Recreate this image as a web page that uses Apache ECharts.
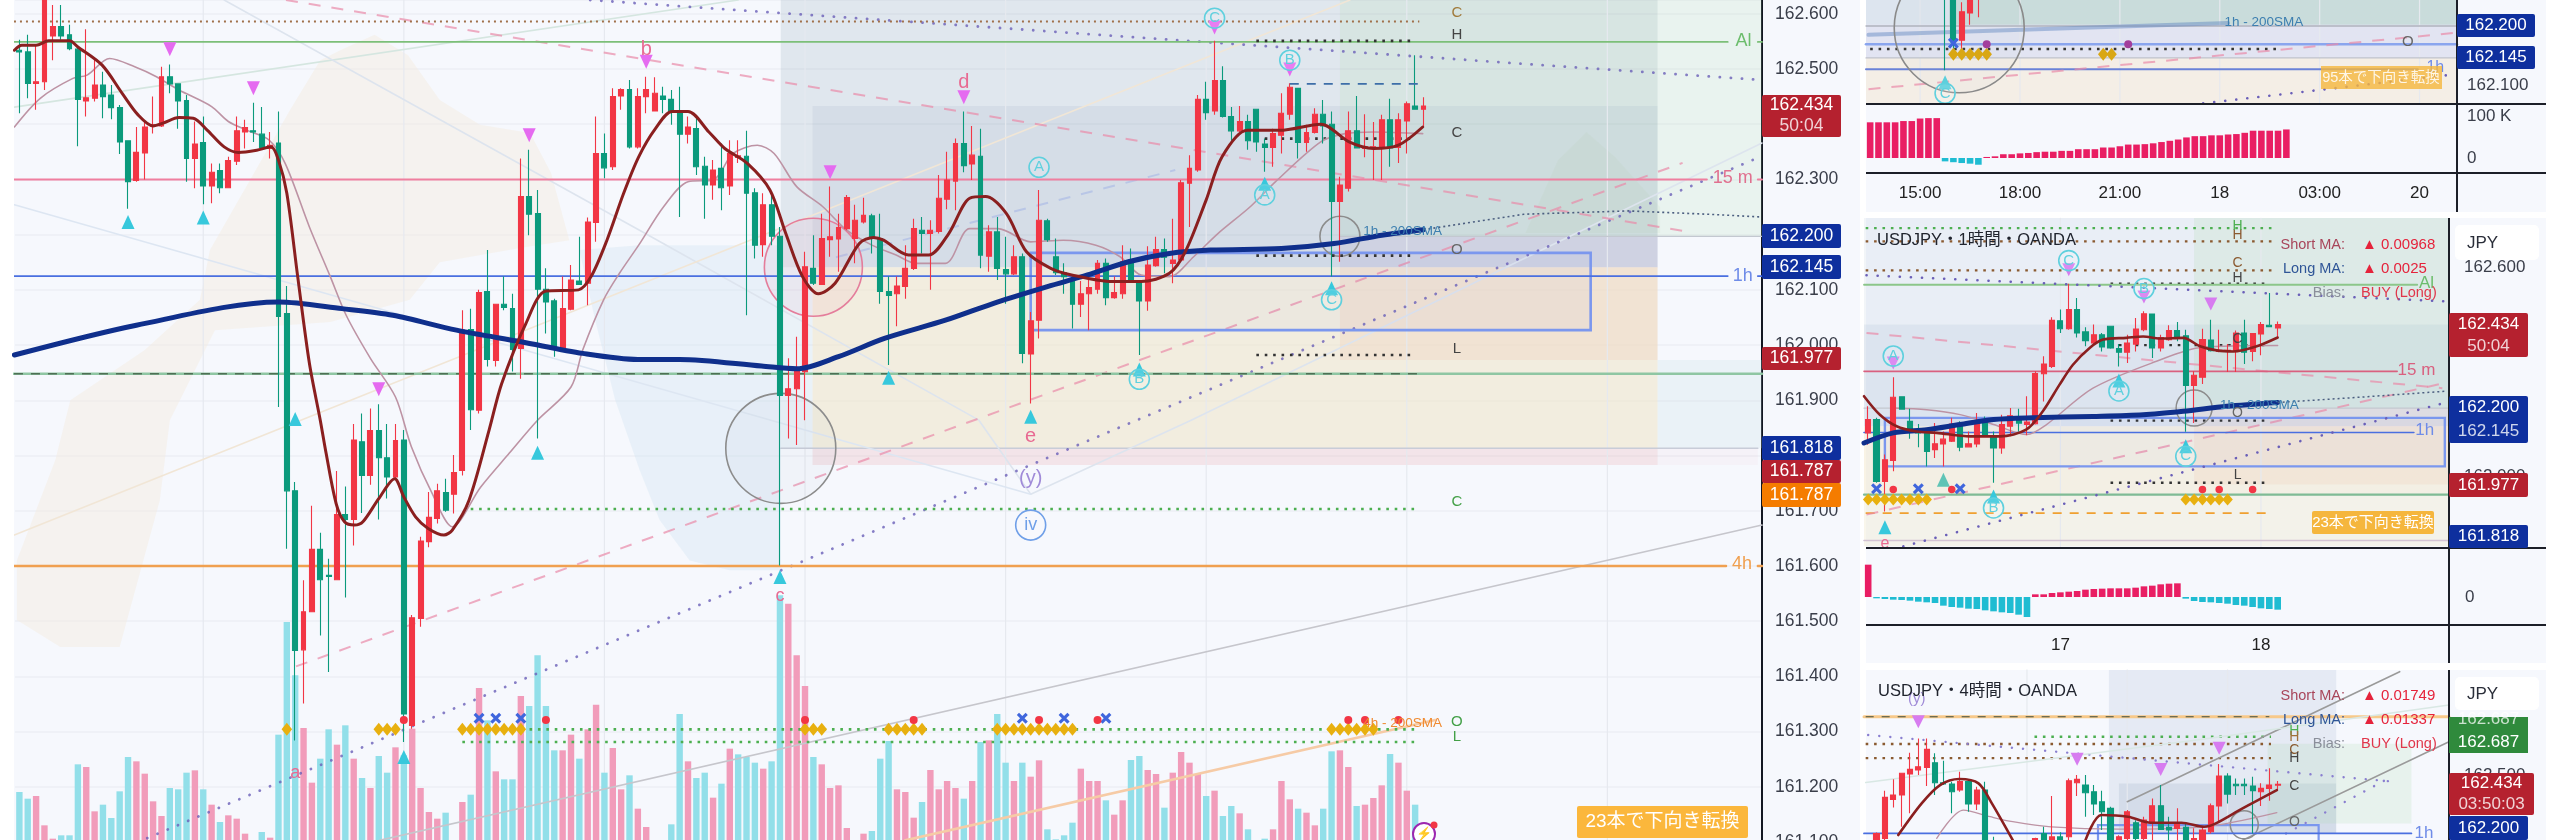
<!DOCTYPE html>
<html><head><meta charset="utf-8">
<style>html,body{margin:0;padding:0;background:#fff;}#c{width:2560px;height:840px;}</style>
<script src="https://cdn.jsdelivr.net/npm/echarts@6/dist/echarts.min.js"></script>
</head><body><div id="c"></div>
<script>
// ---------- candles: [open, close, low, high] ----------
const mainCandles=[
[162.534,162.531,162.420,162.553],[162.531,162.474,162.447,162.562],[162.474,162.477,162.426,162.543],[162.477,162.643,162.462,162.661],[162.560,162.577,162.516,162.616],[162.577,162.560,162.553,162.616],[162.562,162.537,162.534,162.580],[162.536,162.445,162.360,162.540],[162.442,162.448,162.414,162.572],[162.447,162.471,162.441,162.519],
[162.471,162.450,162.411,162.495],[162.453,162.430,162.409,162.471],[162.430,162.368,162.346,162.435],[162.370,162.296,162.247,162.371],[162.298,162.349,162.296,162.395],[162.348,162.395,162.300,162.405],[162.397,162.399,162.383,162.450],[162.397,162.486,162.395,162.504],[162.486,162.473,162.456,162.508],[162.473,162.442,162.392,162.474],
[162.443,162.338,162.296,162.453],[162.338,162.364,162.284,162.405],[162.367,162.288,162.255,162.414],[162.288,162.313,162.257,162.329],[162.316,162.285,162.275,162.329],[162.285,162.334,162.284,162.341],[162.333,162.388,162.326,162.414],[162.386,162.394,162.356,162.408],[162.388,162.386,162.368,162.439],[162.382,162.358,162.356,162.431],
[162.356,162.362,162.338,162.386],[162.366,162.052,161.888,162.423],[162.057,161.736,161.631,162.107],[161.736,161.447,161.284,161.752],[161.448,161.517,161.351,161.574],[161.517,161.630,161.517,161.709],[161.630,161.575,161.474,161.660],[161.583,161.581,161.408,161.613],[161.575,161.693,161.574,161.772],[161.693,161.684,161.543,161.744],
[161.684,161.828,161.637,161.857],[161.825,161.764,161.696,161.876],[161.764,161.845,161.747,161.885],[161.845,161.796,161.684,161.893],[161.796,161.761,161.722,161.857],[161.761,161.827,161.758,161.857],[161.828,161.332,161.281,161.846],[161.311,161.506,161.305,161.511],[161.505,161.645,161.490,161.653],[161.644,161.688,161.634,161.734],
[161.686,161.736,161.677,161.749],[161.733,161.701,161.698,161.758],[161.730,161.769,161.695,161.801],[161.773,162.027,161.764,162.063],[162.028,161.883,161.846,162.066],[161.882,162.095,161.876,162.100],[162.097,161.974,161.961,162.172],[161.972,162.074,161.961,162.075],[162.074,162.068,162.063,162.124],[162.066,161.992,161.952,162.093],
[161.994,162.269,161.939,162.338],[162.269,162.237,162.199,162.354],[162.238,162.101,161.831,162.281],[162.101,162.078,162.021,162.139],[162.080,161.997,161.979,162.084],[161.994,162.066,161.991,162.124],[162.065,162.118,162.063,162.145],[162.116,162.110,162.109,162.196],[162.112,162.223,162.072,162.231],[162.222,162.347,162.187,162.414],
[162.347,162.321,162.302,162.383],[162.323,162.450,162.317,162.465],[162.451,162.463,162.426,162.465],[162.463,162.359,162.356,162.480],[162.359,162.450,162.356,162.465],[162.450,162.463,162.420,162.486],[162.424,162.456,162.423,162.485],[162.451,162.445,162.420,162.468],[162.445,162.423,162.399,162.462],[162.423,162.382,162.232,162.468],
[162.382,162.395,162.365,162.414],[162.392,162.323,162.308,162.414],[162.324,162.290,162.229,162.341],[162.290,162.317,162.263,162.335],[162.320,162.285,162.244,162.365],[162.288,162.347,162.272,162.371],[162.340,162.343,162.330,162.371],[162.342,162.275,162.054,162.388],[162.276,162.181,162.157,162.284],[162.182,162.254,162.160,162.275],
[162.254,162.197,162.181,162.278],[162.197,161.909,161.601,162.214],[161.909,161.921,161.831,161.976],[161.921,161.952,161.819,162.015],[161.952,162.142,161.864,162.169],[162.139,162.112,162.109,162.199],[162.110,162.193,162.109,162.238],[162.191,162.196,162.160,162.287],[162.192,162.213,162.133,162.238],[162.211,162.267,162.208,162.272],
[162.193,162.226,162.148,162.254],[162.223,162.235,162.220,162.267],[162.234,162.196,162.166,162.238],[162.193,162.097,162.075,162.238],[162.097,162.090,161.964,162.124],[162.093,162.107,162.034,162.124],[162.106,162.139,162.084,162.181],[162.139,162.211,162.136,162.229],[162.208,162.202,162.166,162.232],[162.202,162.208,162.100,162.226],
[162.206,162.266,162.202,162.308],[162.264,162.299,162.246,162.350],[162.297,162.365,162.244,162.374],[162.365,162.325,162.313,162.423],[162.328,162.344,162.299,162.397],[162.342,162.163,162.139,162.392],[162.161,162.205,162.133,162.217],[162.205,162.139,162.118,162.232],[162.137,162.129,162.075,162.196],[162.129,162.160,162.127,162.181],
[162.160,161.985,161.967,162.166],[161.984,162.044,161.894,162.060],[162.045,162.226,162.012,162.281],[162.225,162.191,162.187,162.229],[162.160,162.131,162.127,162.193],[162.131,162.124,162.093,162.148],[162.119,162.074,162.030,162.124],[162.074,162.093,162.051,162.116],[162.093,162.104,162.027,162.124],[162.101,162.148,162.093,162.154],
[162.148,162.086,162.072,162.157],[162.086,162.095,162.084,162.124],[162.093,162.151,162.084,162.181],[162.154,162.116,162.115,162.175],[162.113,162.080,161.982,162.115],[162.080,162.145,162.062,162.179],[162.144,162.173,162.142,162.196],[162.173,162.159,162.130,162.193],[162.148,162.154,162.112,162.229],[162.154,162.294,162.151,162.299],
[162.293,162.320,162.214,162.344],[162.317,162.445,162.314,162.453],[162.445,162.421,162.408,162.477],[162.424,162.479,162.417,162.551],[162.479,162.414,162.412,162.505],[162.414,162.388,162.370,162.431],[162.388,162.405,162.386,162.433],[162.405,162.370,162.354,162.417],[162.427,162.368,162.350,162.428],[162.364,162.358,162.314,162.374],
[162.358,162.383,162.323,162.392],[162.380,162.420,162.347,162.456],[162.418,162.467,162.408,162.474],[162.465,162.367,162.338,162.466],[162.367,162.385,162.350,162.399],[162.385,162.418,162.383,162.429],[162.418,162.397,162.365,162.444],[162.400,162.260,162.124,162.423],[162.260,162.290,162.151,162.305],[162.284,162.388,162.278,162.423],
[162.388,162.357,162.356,162.451],[162.356,162.359,162.340,162.418],[162.356,162.359,162.299,162.404],[162.358,162.408,162.299,162.417],[162.408,162.357,162.323,162.446],[162.358,162.408,162.330,162.420],[162.406,162.437,162.347,162.441],[162.433,162.427,162.427,162.525],[162.427,162.433,162.397,162.449]];
const mainVolume=[150,130,138,50,10,20,20,233,225,92,112,72,152,255,242,205,122,78,162,158,208,215,158,112,60,80,70,25,5,30,13,322,660,500,342,178,250,338,292,350,250,192,162,258,208,284,260,340,162,90,70,88,0,120,142,462,365,212,188,188,438,408,560,408,275,275,322,250,338,412,208,282,158,200,100,45,0,5,53,384,242,192,208,133,175,280,263,255,238,220,242,740,715,560,468,255,233,162,170,42,0,25,33,250,303,158,150,73,120,216,158,183,162,130,183,300,305,384,238,183,238,196,245,38,8,20,58,220,183,183,125,82,125,246,258,216,204,103,208,270,238,204,138,154,78,108,86,38,0,10,38,183,128,100,88,50,100,272,275,225,108,112,132,170,264,238,154,112,0];
const mainVolumeUp=[0,0,1,1,1,0,0,0,1,1,0,0,0,0,1,1,1,1,0,0,0,1,0,1,0,1,1,1,0,0,1,0,0,0,1,1,0,0,1,0,1,0,1,0,0,1,0,1,1,1,1,0,1,1,0,1,0,1,0,0,1,0,0,0,0,1,1,0,1,1,0,1,1,0,1,1,1,0,0,0,1,0,0,1,0,1,0,0,0,1,0,0,1,1,1,0,1,1,1,1,1,1,0,0,0,1,1,1,0,1,1,1,1,0,1,0,1,0,0,1,0,1,1,0,0,0,0,1,1,1,0,1,1,0,0,1,1,0,1,1,1,1,0,1,0,0,1,0,0,0,1,1,1,0,1,1,0,0,1,1,0,1,1,1,0,1,1,0,1];
const mainSma200=[[-0.6,161.982],[14,162.036],[31,162.078],[38.6,162.066],[44.7,162.054],[52.3,162.027],[60,162.006],[67.4,161.985],[74,161.974],[79,161.974],[88.8,161.962],[93,161.957],[98,161.979],[103.5,162.012],[110.8,162.045],[117,162.078],[123,162.106],[127.8,162.127],[132.7,162.151],[137.6,162.166],[142.5,162.172],[151,162.175],[157.3,162.184],[163,162.199],[168,162.209]];
const mainSma200Ext=[[168,162.209],[180,162.237],[192.5,162.243],[202,162.237],[208.5,162.232]];
const mainFastMa=[[-0.6,162.534],[0.3,162.543],[2,162.543],[3.5,162.551],[6,162.551],[7,162.540],[9.9,162.507],[12.3,162.456],[14.2,162.417],[16,162.397],[17.2,162.402],[19.1,162.412],[20.8,162.411],[22.5,162.389],[24.5,162.359],[26.2,162.349],[28.4,162.353],[30.1,162.359],[31,162.335],[32,162.275],[33.3,162.124],[34.7,161.967],[36,161.864],[36.7,161.804],[37.9,161.713],[38.9,161.680],[40.1,161.674],[41.1,161.680],[43,161.722],[44.9,161.758],[46,161.725],[47.4,161.689],[48.9,161.668],[50.8,161.656],[51.8,161.665],[53.8,161.719],[56.2,161.846],[57.7,161.930],[60.6,162.039],[63,162.098],[66.9,162.100],[68.4,162.124],[70.3,162.190],[72.3,162.275],[74.1,162.341],[76.1,162.392],[78.1,162.423],[80,162.423],[82.5,162.386],[84.4,162.356],[87.1,162.329],[89.8,162.281],[91.7,162.202],[93.7,162.124],[95.6,162.093],[97.6,162.112],[100.5,162.184],[102.2,162.195],[103.4,162.190],[106.4,162.163],[108.8,162.163],[111.2,162.202],[113.7,162.266],[115.6,162.269],[118.1,162.238],[120.5,162.169],[123.4,162.139],[125.9,162.127],[130.8,162.115],[134.2,162.115],[137.6,162.130],[139.5,162.169],[142,162.263],[143.9,162.341],[146.9,162.389],[150.8,162.389],[155.7,162.400],[159.1,162.368],[162,162.356],[165,162.362],[167.9,162.395]];
const mainSlowMa=[[-0.6,162.395],[2.5,162.447],[6.4,162.483],[8.1,162.489],[10.8,162.519],[13.8,162.504],[16.4,162.486],[19.1,162.462],[23,162.432],[25,162.405],[27.4,162.388],[29.9,162.371],[31.8,162.329],[34.7,162.214],[37.2,162.124],[39.1,162.054],[42,161.976],[45,161.906],[46.9,161.816],[49.4,161.731],[51.8,161.671],[55.2,161.743],[58.6,161.804],[62,161.864],[66,161.924],[67.4,161.991],[69.9,162.082],[71.8,162.130],[74.1,162.181],[77.1,162.251],[80,162.296],[83,162.299],[85.4,162.347],[88.3,162.362],[90.3,162.347],[93,162.287],[96.1,162.251],[99,162.208],[102,162.181],[104.9,162.163],[107.3,162.148],[110.8,162.148],[113.7,162.211],[117.1,162.211],[121,162.187],[124.9,162.190],[128.8,162.181],[131.7,162.160],[134.2,162.127],[137.6,162.124],[140.5,162.160],[143.4,162.202],[147.3,162.251],[150.3,162.296],[155.7,162.368],[158.6,162.383],[162,162.386],[167.9,162.383]];
const mainTickLabelsEvery=0.1;
const mainLevels={al:162.549,m15:162.300,h1:162.125,base:161.948,h4:161.600};
const mainDownTriangles=[[18,162.536],[28,162.465],[43,161.920],[61,162.380],[75,162.513],[97,162.313],[113,162.449],[143,162.575],[152,162.499]];
const mainUpTriangles=[[13,162.223],[22,162.231],[33,161.866],[46,161.254],[62,161.805],[91,161.580],[104,161.941],[121,161.870],[134,161.956],[149,162.292],[157,162.103]];
const mainDiamondBars=[32,43,44,45,53,54,55,56,57,58,59,60,94,95,96,104,105,106,107,108,117,118,119,120,121,122,123,124,125,126,157,158,159,160,161,162];
const mainDiamondPrice=161.304;
const mainCrossBars=[55,57,60,120,125,130];
const mainCrossPrice=161.324;
const mainDotBars=[46,63,94,107,122,129,159,161,165];
const mainDotPrice=161.321;

const hourCandles=[
[162.125,162.163,162.091,162.201],[162.163,161.986,161.982,162.168],[161.986,162.048,161.900,162.063],[162.046,162.227,162.015,162.284],[162.228,162.193,162.191,162.230],[162.158,162.134,162.108,162.194],[162.129,162.125,162.084,162.150],[162.127,162.072,162.029,162.129],[162.077,162.094,162.053,162.153],[162.093,162.107,162.029,162.129],
[162.101,162.150,162.099,162.168],[162.150,162.084,162.072,162.158],[162.085,162.094,162.084,162.129],[162.093,162.158,162.084,162.182],[162.161,162.117,162.115,162.172],[162.117,162.082,161.982,162.129],[162.082,162.149,162.065,162.177],[162.144,162.174,162.115,162.196],[162.172,162.153,162.129,162.194],[162.149,162.156,162.118,162.230],
[162.151,162.295,162.149,162.301],[162.294,162.322,162.215,162.344],[162.315,162.447,162.311,162.456],[162.446,162.423,162.411,162.478],[162.423,162.478,162.420,162.552],[162.478,162.411,162.398,162.511],[162.414,162.389,162.373,162.427],[162.382,162.406,162.379,162.435],[162.406,162.371,162.358,162.411],[162.430,162.368,162.366,162.431],
[162.366,162.356,162.315,162.379],[162.356,162.382,162.325,162.406],[162.379,162.422,162.358,162.454],[162.420,162.466,162.416,162.473],[162.465,162.368,162.339,162.466],[162.368,162.398,162.358,162.406],[162.392,162.418,162.389,162.433],[162.418,162.398,162.387,162.442],[162.403,162.261,162.128,162.420],[162.261,162.290,162.153,162.301],
[162.284,162.392,162.265,162.423],[162.391,162.360,162.358,162.449],[162.358,162.361,162.356,162.420],[162.358,162.361,162.299,162.379],[162.358,162.411,162.299,162.418],[162.411,162.356,162.322,162.449],[162.358,162.409,162.330,162.411],[162.408,162.435,162.347,162.442],[162.433,162.429,162.429,162.525],[162.425,162.435,162.397,162.444]];
const hourSma200=[[-0.5,162.096],[3,162.125],[7,162.134],[11,162.149],[15,162.163],[19.7,162.168],[26.9,162.172],[32.9,162.177],[37.7,162.187],[42.9,162.201],[49,162.212]];
const hourSma200Ext=[[49,162.212],[57.6,162.225],[69,162.244]];
const hourFastMa=[[-0.5,162.230],[1.4,162.177],[3.4,162.144],[5.8,162.129],[8.2,162.125],[12.2,162.115],[15.8,162.115],[18.9,162.134],[20.9,162.187],[22.9,162.263],[24.5,162.320],[26.5,162.368],[28.1,162.392],[30.9,162.397],[32.9,162.401],[34.9,162.395],[37.7,162.397],[39.7,162.373],[41.7,162.361],[43.7,162.358],[46.5,162.373],[49,162.398]];
const hourSlowMa=[[3,162.196],[7,162.191],[11,162.177],[15,162.149],[19,162.120],[21.3,162.148],[26.9,162.253],[34.5,162.330],[40,162.370],[49,162.375]];
const hourHistogram=[97,-4,-6,-8,-9,-11,-14,-16,-18,-26,-30,-32,-35,-36,-40,-43,-46,-48,-53,-60,8,8,12,14,16,18,22,24,25,26,26,26,28,32,34,38,40,41,-5,-12,-15,-16,-18,-20,-24,-26,-30,-34,-36,-38];

const fourHourCandles=[null,
[162.079,162.122,162.079,162.129],[162.090,162.355,162.079,162.398],[162.342,162.370,162.290,162.471],[162.370,162.510,162.166,162.514],[162.505,162.535,162.252,162.643],[162.531,162.552,162.499,162.735],[162.548,162.664,162.428,162.735],[162.578,162.449,162.370,162.639],[162.449,162.441,162.434,162.591],[162.441,162.391,162.252,162.456],
[162.402,162.456,162.391,162.520],[162.456,162.312,162.262,162.458],[162.312,162.402,162.273,162.424],[162.402,162.015,162.000,162.456],[162.060,162.040,162.020,162.101],null,null,null,null,
[162.050,162.090,162.030,162.095],[162.122,162.079,162.050,162.165],[162.060,162.100,162.040,162.363],[162.100,162.079,162.000,162.130],[162.101,162.462,162.079,162.477],[162.449,162.471,162.363,162.499],[162.434,162.385,162.230,162.499],[162.391,162.312,162.241,162.434],[162.327,162.262,162.144,162.398],[162.284,162.036,162.000,162.294],
[162.050,162.101,162.030,162.110],[162.090,162.262,162.060,162.273],[162.191,162.090,162.079,162.208],[162.090,162.208,162.079,162.230],[162.191,162.301,162.079,162.348],[162.301,162.148,162.144,162.434],[162.161,162.144,162.079,162.230],[162.155,162.191,162.079,162.284],[162.161,162.036,162.000,162.187],[162.058,162.090,162.030,162.155],
[162.036,162.144,162.000,162.165],[162.133,162.301,162.122,162.316],[162.299,162.492,162.198,162.570],[162.492,162.376,162.316,162.510],[162.439,162.430,162.370,162.477],[162.439,162.430,162.370,162.477],[162.428,162.398,162.122,162.488],[162.391,162.413,162.299,162.445],[162.413,162.434,162.333,162.542],[162.434,162.439,162.402,162.460]];
const fourFastMaA=[[3.6,162.112],[6.4,162.316],[8.6,162.434],[10.9,162.473],[13.2,162.445],[14.8,162.316],[17.3,162.079]];
const fourFastMaB=[[26,162.079],[27.9,162.241],[31.1,162.230],[33.8,162.191],[37.5,162.191],[40.2,162.165],[41.6,162.187],[44.8,162.284],[48.9,162.402]];
const fourSlowMa=[[8.2,162.090],[11.4,162.273],[14.6,162.230],[17.3,162.198],[21.9,162.165],[30,162.150],[40.2,162.165],[48.9,162.256]];

const quarterCandles=[null,null,null,null,null,null,null,null,null,
[162.30,162.29,162.125,162.31],[162.30,162.173,162.160,162.31],[162.176,162.224,162.160,162.24],[162.222,162.28,162.202,162.30],[162.25,162.29,162.215,162.30]];
const quarterHistogram=[85,85,85,85,88,88,94,95,95,-8,-10,-12,-13.5,-16,2.5,4,9,9,11,12,14,15,15,17,17,21,21,21,25,25,28,32,32,33,35,38,41,44,49,52,52,54,54,56,57,60,65,65,65,65,68];
const quarterTimeLabels={6:'15:00',18:'18:00',30:'21:00',42:'18',54:'03:00',66:'20'};
const hourTimeLabels={23:'17',47:'18'};

// ---------- layout ----------
const MAIN_SLOTS=209,Q_SLOTS=71,H_SLOTS=70,F_SLOTS=70;
const FONT='"Liberation Sans","Noto Sans CJK JP",sans-serif';
const RED='#f23645',GREEN='#0b9a7c',PURPLE='#6a5fb8',PINK='#ea8aa8',NAVY='#0f2f8c',MAROON='#8a1f1f',MAUVE='#bd93a4';
const blank=n=>Array.from({length:n},(_,i)=>String(i));
const grids=[
 {left:15.2,width:1746.8,top:0,height:842},
 {left:1866,width:591,top:0,height:104},
 {left:1866,width:591,top:104,height:69},
 {left:1864,width:585,top:218,height:328.4},
 {left:1864,width:585,top:548,height:77},
 {left:1864,width:585,top:670,height:172}
];
const slotCounts=[MAIN_SLOTS,Q_SLOTS,Q_SLOTS,H_SLOTS,H_SLOTS,F_SLOTS];
const xAxis=[];
grids.forEach((g,k)=>{
  const labels=k===2?blank(Q_SLOTS).map((_,i)=>quarterTimeLabels[i]||''):k===4?blank(H_SLOTS).map((_,i)=>hourTimeLabels[i]||''):blank(slotCounts[k]);
  const showLabels=k===2||k===4;
  xAxis.push({type:'category',gridIndex:k,data:labels,show:showLabels,axisLine:{show:false},axisTick:{show:false},splitLine:{show:false},
    axisLabel:{show:showLabels,interval:0,margin:12,fontFamily:FONT,fontSize:17,color:'#222'}});
  xAxis.push({type:'value',gridIndex:k,min:-0.5,max:slotCounts[k]-0.5,show:false,splitLine:{show:false}});
});
const yAxis=[
 {type:'value',gridIndex:0,position:'right',min:161.1,max:162.625,interval:mainTickLabelsEvery,
  axisLine:{show:true,onZero:false,lineStyle:{color:'#131722',width:2}},axisTick:{show:false},splitLine:{show:true,lineStyle:{color:'#eceff4',width:1.5}},
  axisLabel:{margin:13,fontFamily:FONT,fontSize:17.5,color:'#3a3e4a',showMaxLabel:false,formatter:v=>v.toFixed(3)}},
 {type:'value',gridIndex:0,min:0,max:2526,show:false,splitLine:{show:false}},
 {type:'value',gridIndex:1,position:'right',min:162.068,max:162.244,axisLine:{show:false},axisTick:{show:false},splitLine:{show:false},
  axisLabel:{customValues:[162.1],margin:10,fontFamily:FONT,fontSize:17,color:'#3a3e4a',formatter:v=>v.toFixed(3)}},
 {type:'value',gridIndex:2,position:'right',min:-35.7,max:128.6,axisLine:{show:false},axisTick:{show:false},splitLine:{show:false},
  axisLabel:{customValues:[0,100],margin:10,fontFamily:FONT,fontSize:17,color:'#3a3e4a',formatter:v=>v===0?'0':'100 K'}},
 {type:'value',gridIndex:3,position:'right',min:161.8,max:162.74,axisLine:{show:false},axisTick:{show:false},splitLine:{show:false},
  axisLabel:{customValues:[162.6,162],margin:15,fontFamily:FONT,fontSize:17,color:'#3a3e4a',formatter:v=>v.toFixed(3)}},
 {type:'value',gridIndex:4,position:'right',min:-84,max:147,axisLine:{show:false},axisTick:{show:false},splitLine:{show:false},
  axisLabel:{customValues:[0],margin:16,fontFamily:FONT,fontSize:17,color:'#3a3e4a',formatter:()=>'0'}},
 {type:'value',gridIndex:5,position:'right',min:162.067,max:163.176,axisLine:{show:false},axisTick:{show:false},splitLine:{show:false},
  axisLabel:{customValues:[162.5,162.687],margin:15,fontFamily:FONT,fontSize:17,color:'#3a3e4a',formatter:v=>v.toFixed(3)}}
];
const yOf=[0,2,3,4,5,6];
const series=[];
function line(k,pts,color,w,type,z,extra){
  const butt=Array.isArray(type)&&type[0]>1;
  series.push(Object.assign({type:'line',xAxisIndex:2*k+1,yAxisIndex:yOf[k],data:pts,symbol:'none',silent:true,z:z||3,animation:false,
    lineStyle:{color,width:w,type:type||'solid',cap:butt?'butt':'round',join:'round'}},extra||{}));
}
const DOT=[0.1,11],GDOT=[2.6,5.8],DASH=[12,11];
function marks(k,pts,symbol,size,color,z,rotate){
  series.push({type:'scatter',xAxisIndex:2*k+1,yAxisIndex:yOf[k],data:pts,symbol,symbolSize:size,symbolRotate:rotate||0,silent:true,z:z||6,itemStyle:{color,opacity:1},animation:false});
}
function candles(k,data,w){
  series.push({type:'candlestick',xAxisIndex:2*k,yAxisIndex:yOf[k],data:data.map(d=>d||['-','-','-','-']),barWidth:w||5.4,z:5,silent:true,animation:false,
    itemStyle:{color:RED,color0:GREEN,borderColor:RED,borderColor0:GREEN,borderColorDoji:RED,borderWidth:1.1}});
}
function shapes(k,list,z){
  series.push({type:'custom',xAxisIndex:2*k+1,yAxisIndex:yOf[k],data:[[0,0]],silent:true,z:z,clip:true,animation:false,
    renderItem:(p,api)=>{
      const ch=[];
      list.forEach(s=>{
        if(s.rect){const a=api.coord([s.rect[0],s.rect[2]]),b=api.coord([s.rect[1],s.rect[3]]);
          ch.push({type:'rect',shape:{x:a[0],y:a[1],width:b[0]-a[0],height:b[1]-a[1]},style:{fill:s.fill||'none',stroke:s.stroke||null,lineWidth:s.lw||0}});}
        if(s.poly){ch.push({type:'polygon',shape:{points:s.poly.map(q=>api.coord(q))},style:{fill:s.fill}});}
        if(s.circle){const c=api.coord(s.circle);
          ch.push({type:'circle',shape:{cx:c[0],cy:c[1],r:s.r},style:{fill:s.fill||'none',stroke:s.stroke,lineWidth:s.lw||1.5}});}
      });
      return {type:'group',children:ch};
    }});
}
function texts(k,list,z){
  series.push({type:'custom',xAxisIndex:2*k+1,yAxisIndex:yOf[k],data:[[0,0]],silent:true,z:z||9,clip:false,animation:false,
    renderItem:(p,api)=>{
      const ch=[];
      list.forEach(t=>{
        const c=api.coord([t[0],t[1]]);
        if(t[5])ch.push({type:'circle',shape:{cx:c[0],cy:c[1],r:t[5]},style:{fill:'rgba(255,255,255,0.12)',stroke:t[3],lineWidth:1.6}});
        ch.push({type:'text',x:c[0],y:c[1],style:{text:t[2],fill:t[3],font:(t[4]||15)+'px '+FONT,align:'center',verticalAlign:'middle'}});
      });
      return {type:'group',children:ch};
    }});
}
const vgrid=(k,list,p0,p1)=>list.forEach(i=>line(k,[[i,p0],[i,p1]],'#e6e9ef',1.2,'solid',1.5));

// ===== MAIN =====
const pTop=162.7,pBot=161.1;
vgrid(0,[22,46,70,94,118,142,166,190],pBot,pTop);
shapes(0,[
 {poly:[[38.4,162.534],[42.5,162.562],[46.5,162.525],[50.3,162.444],[55.1,162.399],[61.1,162.384],[63.6,162.312],[65.8,162.190],[59.9,162.176],[50.3,162.150],[46.7,162.082],[37.2,162.042],[23.4,162.027],[18,161.864],[16.8,161.719],[12,161.453],[4.9,161.453],[-0.3,161.502],[-0.3,161.610],[4.3,161.792],[6.1,161.900],[15,161.991],[21.6,162.082],[22.8,162.172],[27.6,162.299],[32.4,162.426],[36,162.516]],fill:'rgba(244,236,222,0.45)'},
 {poly:[[67,162.172],[74.2,162.181],[91.1,162.181],[91.1,161.592],[85,161.592],[80.2,161.610],[76.6,161.683],[74.2,161.774],[71.3,161.900],[68.9,162.045]],fill:'rgba(205,226,240,0.35)'},
 {rect:[91.1,196,pTop,162.141],fill:'rgba(90,130,150,0.14)'},
 {rect:[94.9,196,162.433,162.141],fill:'rgba(70,100,140,0.07)'},
 {rect:[91.1,94.9,162.141,161.813],fill:'rgba(200,225,235,0.25)'},
 {rect:[94.9,196,162.141,161.813],fill:'rgba(238,226,190,0.48)'},
 {rect:[158,196,162.197,162.141],fill:'rgba(170,150,200,0.14)'},
 {rect:[158,196,162.141,161.973],fill:'rgba(240,170,140,0.14)'},
 {rect:[158,208.5,pTop,162.197],fill:'rgba(165,215,165,0.16)'},
 {rect:[196,208.5,161.973,161.813],fill:'rgba(190,220,225,0.2)'},
 {rect:[94.9,196,161.813,161.783],fill:'rgba(230,160,165,0.22)'},
 {rect:[196,208,161.813,161.783],fill:'rgba(230,160,165,0.06)'},
 {poly:[[180.2,162.203],[184.1,162.335],[187.5,162.386],[190.9,162.341],[196.3,162.250],[196.3,162.203]],fill:'rgba(165,185,140,0.08)'}
],1);
line(0,[[158,162.197],[208.5,162.197]],'#c3c8d0',1.3,'solid',2);
line(0,[[91.1,161.813],[208,161.813]],'#c8ccd8',1.5,'solid',2);
// faint trend lines
line(0,[[-0.6,162.431],[86,162.625]],'#d5e6e0',1.6);
line(0,[[24.5,162.625],[74.2,162.208],[114.8,161.864],[121,161.730],[140.2,161.864],[208.5,162.366]],'#dde4ee',1.6);
line(0,[[-0.6,162.254],[121,161.730]],'#dde6f2',1.6);
line(0,[[-0.6,161.656],[159.2,162.625]],'#f1e6d6',1.6);
line(0,[[43.1,161.103],[208.5,161.674]],'#c6c6cc',1.6);
// volume
series.push({type:'bar',xAxisIndex:0,yAxisIndex:1,data:mainVolume.map((v,i)=>({value:v,itemStyle:{color:mainVolumeUp[i]?'#f19cba':'#92dfe9'}})),barWidth:6.4,z:2,silent:true,animation:false});
line(0,[[106,161.103],[169.4,161.321]],'#f6cba6',2.6,'solid',3);
// trend dots / dashes
line(0,[[68.3,162.625],[208.5,162.480]],PURPLE,3,DOT,3,{lineStyle:{color:PURPLE,width:2.8,type:DOT,cap:'round',opacity:.8}});
line(0,[[15.3,161.107],[208.3,162.341]],PURPLE,2.8,DOT,3,{lineStyle:{color:PURPLE,width:2.8,type:DOT,cap:'round',opacity:.8}});
line(0,[[31.9,162.625],[199,162.207]],PINK,2,DASH,3,{lineStyle:{color:PINK,width:2,type:DASH,opacity:.7}});
line(0,[[33.1,161.418],[199,162.330]],PINK,2,DASH,3,{lineStyle:{color:PINK,width:2,type:DASH,opacity:.7}});
line(0,[[97.7,162.159],[138.3,162.317]],'#b9c6e6',2,DASH,3);
// level lines
line(0,[[-0.65,162.586],[167.5,162.586]],'#a0704a',2,[2,4],3);
line(0,[[-0.65,mainLevels.al],[204.4,mainLevels.al]],'#7cbf78',1.8,'solid',4);line(0,[[208,mainLevels.al],[208.5,mainLevels.al]],'#7cbf78',1.8,'solid',4);
line(0,[[-0.65,mainLevels.m15],[201.9,mainLevels.m15]],'#ef7f9f',2,'solid',4);line(0,[[208,mainLevels.m15],[208.5,mainLevels.m15]],'#ef7f9f',2,'solid',4);
line(0,[[-0.65,mainLevels.h1],[204.4,mainLevels.h1]],'#4a6fe0',1.8,'solid',4);line(0,[[208,mainLevels.h1],[208.5,mainLevels.h1]],'#4a6fe0',1.8,'solid',4);
line(0,[[-0.65,mainLevels.base],[208.5,mainLevels.base]],'#8fc6a3',2.6,'solid',4);
line(0,[[-0.65,mainLevels.base],[167.8,mainLevels.base]],'#4f6f55',1.5,[9,8],4);
line(0,[[-0.65,mainLevels.h4],[204.2,mainLevels.h4]],'#f0a050',2.4,'solid',4);line(0,[[208,mainLevels.h4],[208.5,mainLevels.h4]],'#f0a050',2.4,'solid',4);
// dotted H/L/O/C
[[54,167,161.703,'#4caf50'],[53,167,161.304,'#4caf50'],[53,167,161.281,'#4caf50'],[148,167,162.551,'#333'],[148,167,162.162,'#333'],[148,167,161.982,'#333'],[148,167,162.374,'#333']].forEach(d=>line(0,[[d[0],d[2]],[d[1],d[2]]],d[3],2.6,GDOT,4));
line(0,[[152,162.473],[167.5,162.473]],'#3d6ea8',1.6,[9,8],6);
// boxes & circles
shapes(0,[
 {rect:[121,188,162.167,162.027],fill:'rgba(70,100,220,0.03)',stroke:'#7b97ee',lw:2.6},
 {circle:[95,162.141],r:49,fill:'rgba(230,120,150,0.08)',stroke:'#e47d9b',lw:1.6},
 {circle:[91.1,161.813],r:55,fill:'rgba(160,170,190,0.06)',stroke:'#8c8c8c',lw:1.6},
 {circle:[158,162.197],r:20,fill:'rgba(160,170,190,0.05)',stroke:'#8c8c8c',lw:1.6}
],3.5);
candles(0,mainCandles,5.4);
line(0,mainSma200,NAVY,5,'solid',7,{smooth:0.3});
line(0,mainSma200Ext,'#4c5f80',1.6,[2,3],7);
line(0,mainFastMa,MAROON,3,'solid',7,{smooth:0.3});
line(0,mainSlowMa,MAUVE,1.6,'solid',4.5,{smooth:0.3});
marks(0,mainDownTriangles,'triangle',[13,14],'#e56bf0',8,180);
marks(0,mainUpTriangles,'triangle',[13,14],'#37c8dc',8);
marks(0,mainDiamondBars.map(i=>[i,mainDiamondPrice]),'diamond',[10.5,13],'#e8b00f',8);
const XPATH='path://M2,0 L5,3 L8,0 L10,2 L7,5 L10,8 L8,10 L5,7 L2,10 L0,8 L3,5 L0,2 Z';
marks(0,mainCrossBars.map(i=>[i,mainCrossPrice]),XPATH,[11,11],'#3f66dd',8);
marks(0,mainDotBars.map(i=>[i,mainDotPrice]),'circle',8,'#f23645',8);
texts(0,[
 [172,162.601,'C','#a07a3a',15],[172,162.562,'H','#444',15],[172,162.384,'C','#444',15],[172,162.172,'O','#666',15],[172,161.993,'L','#444',15],
 [172,161.716,'C','#43a047',15],[172,161.317,'O','#43a047',15],[172,161.290,'L','#43a047',15],
 [206.3,162.551,'Al','#6cbd6c',18],[205,162.303,'15 m','#e0708f',18],[206.2,162.125,'1h','#6f8ce8',18],[206.1,161.603,'4h','#f0a050',18],
 [165.5,162.207,'1h - 200SMA','#3d7fb0',13.5],[165.5,161.315,'4h - 200SMA','#f08a30',13.5],
 [75,162.536,'b','#e86a92',20],[113,162.475,'d','#e86a92',20],[121,161.835,'e','#e86a92',20],[121,161.759,'(y)','#a08bd8',20],[121,161.674,'iv','#6f9fe8',18,15],[91,161.545,'c','#e86a92',18],[33,161.225,'a','#e86a92',18],
 [122,162.322,'A','#5fd0de',15,10],[149,162.272,'A','#5fd0de',15,10],[152,162.516,'B','#5fd0de',15,10],[143,162.592,'C','#5fd0de',15,10],[134,161.938,'B','#5fd0de',15,10],[157,162.082,'C','#5fd0de',15,10]
]);

// ===== 15 MIN INSET =====
const k1=1;
vgrid(k1,[6,18,30,42,54,66],162.0,162.3);
shapes(k1,[
 {rect:[-0.5,70.5,162.244,162.202],fill:'rgba(95,130,170,0.16)'},
 {rect:[9.5,70.5,162.244,162.202],fill:'rgba(130,190,150,0.22)'},
 {rect:[-0.5,70.5,162.202,162.146],fill:'rgba(150,150,200,0.2)'},
 {rect:[-0.5,70.5,162.146,162.068],fill:'rgba(240,215,180,0.3)'}
],1);
line(k1,[[-0.5,162.2],[70.5,162.2]],'#b0b3bd',1.3);line(k1,[[-0.5,162.146],[70.5,162.146]],'#c0c2cc',1.3);
line(k1,[[-0.2,162.185],[43,162.205]],'rgba(90,130,190,0.45)',4);
line(k1,[[-0.5,162.169],[70.5,162.169]],'#8aa5ee',2.6,'solid',3);
line(k1,[[-0.5,162.127],[65.8,162.127]],'#6a82d8',2,'solid',3);
line(k1,[[0,162.161],[49,162.161]],'#333',2.4,GDOT,3);
line(k1,[[-0.2,162.093],[70,162.188]],PINK,2,DASH,3,{lineStyle:{color:PINK,width:2,type:DASH,opacity:.7}});
line(k1,[[40,162.069],[69.5,162.117]],PURPLE,2.6,DOT,4);
shapes(k1,[{circle:[10.7,162.197],r:65,stroke:'#8a8a8a',lw:1.6,fill:'rgba(180,190,200,0.05)'}],3.5);
candles(k1,quarterCandles,5.4);
marks(k1,[10,11,12,13,14,28,29].map(i=>[i,162.152]),'diamond',[10.5,13],'#d9a714',8);
marks(k1,[[10,162.171]],XPATH,[11,11],'#3f66dd',8);
marks(k1,[[14,162.169],[31,162.169]],'circle',8,'#a23f9c',8);
marks(k1,[[9,162.105]],'triangle',[13,14],'#5ccfdc',8);
texts(k1,[[9,162.086,'C','#5fd0de',15,10],[47.3,162.207,'1h - 200SMA','#3d7fb0',13.5],[64.6,162.174,'O','#666',15],[67.9,162.129,'1h','#6f8ce8',16]]);
series.push({type:'bar',xAxisIndex:4,yAxisIndex:3,data:quarterHistogram.map(v=>({value:v,itemStyle:{color:v>=0?'#e91e63':'#1fbcd2'}})),barWidth:6.6,z:4,silent:true,animation:false});

// ===== 1 HOUR INSET =====
const k3=3;
vgrid(k3,[23,47],161.8,162.74);
shapes(k3,[
 {rect:[-0.5,69.5,162.74,162.435],fill:'rgba(95,130,170,0.08)'},
 {rect:[-0.5,69.5,162.435,162.144],fill:'rgba(95,130,170,0.17)'},
 {rect:[39,69.5,162.74,162.196],fill:'rgba(165,215,165,0.18)'},
 {rect:[-0.5,69.5,162.144,161.948],fill:'rgba(240,225,190,0.4)'},
 {rect:[39,69.5,162.196,161.977],fill:'rgba(240,170,140,0.13)'},
 {rect:[-0.5,69.5,161.948,161.80],fill:'rgba(240,232,205,0.4)'}
],1);
line(k3,[[-0.5,162.196],[69.5,162.196]],'#c3c8d0',1.2,'solid',2);
line(k3,[[-0.5,161.817],[69.5,161.817]],'#d3c3d3',1.6,'solid',2);
line(k3,[[-0.3,162.711],[48.3,162.711]],'#4caf50',2.4,GDOT,3);
line(k3,[[-0.3,162.673],[48.3,162.673]],'#8a5a30',2.4,GDOT,3);
line(k3,[[-0.3,162.590],[48.3,162.590]],'#8a5a30',2.4,GDOT,3);
[162.552,162.160,161.982,162.376].forEach(v=>line(k3,[[29,v],[48,v]],'#333',2.4,GDOT,3));
line(k3,[[-0.3,161.895],[48,161.895]],'#f0a030',1.8,[9,8],3);
line(k3,[[-0.5,162.549],[65.7,162.549]],'#8cc68a',1.8,'solid',4);
line(k3,[[-0.5,162.301],[63.3,162.301]],'#d9607f',1.6,'solid',4);
line(k3,[[-0.5,162.126],[65.3,162.126]],'#4a6fe0',1.6,'solid',4);
line(k3,[[-0.5,161.948],[69.5,161.948]],'#7fbb95',2.2,'solid',4);
shapes(k3,[{rect:[2,69,162.168,162.029],fill:'rgba(70,100,220,0.03)',stroke:'#7b97ee',lw:2.4},{circle:[39,162.196],r:18,stroke:'#8c8c8c',lw:1.5}],3.5);
line(k3,[[-0.2,162.576],[69.3,162.501]],PURPLE,2.6,DOT,4);
line(k3,[[4.2,161.800],[69,162.211]],PURPLE,2.6,DOT,4);
line(k3,[[-0.2,162.411],[68.7,162.253]],PINK,2,DASH,3,{lineStyle:{color:PINK,width:2,type:DASH,opacity:.7}});
line(k3,[[-0.2,161.891],[69,162.268]],PINK,2,DASH,3,{lineStyle:{color:PINK,width:2,type:DASH,opacity:.7}});
candles(k3,hourCandles,5.6);
line(k3,hourSma200,NAVY,5,'solid',7,{smooth:0.3});
line(k3,hourSma200Ext,'#4c5f80',1.5,[2,3],7);
line(k3,hourFastMa,MAROON,2.6,'solid',7,{smooth:0.3});
line(k3,hourSlowMa,MAUVE,1.4,'solid',4.5,{smooth:0.3});
marks(k3,[[3,162.325],[24,162.592],[33,162.514],[41,162.494]],'triangle',[13,13],'#d77cf0',8,180);
marks(k3,[[2,161.855],[15,161.943],[30,162.275],[38,162.087]],'triangle',[13,14],'#37c8dc',8);
marks(k3,[[9,161.991]],'triangle',[13,14],'#5fc4b6',8);
marks(k3,[0,1,2,3,4,5,6,7,38,39,40,41,42,43].map(i=>[i,161.934]),'diamond',[10.5,12],'#e8b00f',8);
marks(k3,[[1,161.965],[6,161.965],[11,161.965]],XPATH,[11,11],'#3f66dd',8);
marks(k3,[[3,161.963],[10,161.963],[40,161.963],[42,161.963],[46,161.963]],'circle',7.5,'#f23645',8);
texts(k3,[
 [3,162.345,'A','#5fd0de',15,10],[24,162.618,'C','#5fd0de',15,10],[33,162.538,'B','#5fd0de',15,10],[30,162.245,'A','#5fd0de',15,10],[15,161.910,'B','#5fd0de',15,10],[38,162.058,'C','#5fd0de',15,10],
 [2,161.808,'e','#e86a92',16],
 [44.2,162.69,'H','#8a5a30',14],[44.2,162.717,'H','#4caf50',14],[44.2,162.610,'C','#8a5a30',14],[44.2,162.568,'H','#444',14],[44.2,162.394,'C','#444',14],[44.2,162.182,'O','#666',14],[44.2,162.003,'L','#444',14],
 [66.8,162.552,'Al','#6cbd6c',17],[65.6,162.304,'15 m','#d9607f',17],[66.6,162.131,'1h','#6f8ce8',17],
 [46.8,162.205,'1h - 200SMA','#3d7fb0',13.5]
]);
series.push({type:'bar',xAxisIndex:8,yAxisIndex:5,data:hourHistogram.map(v=>({value:v,itemStyle:{color:v>=0?'#e91e63':'#1fbcd2'}})),barWidth:6.6,z:4,silent:true,animation:false});

// ===== 4 HOUR INSET =====
const k5=5;
vgrid(k5,[19,31,43],162.0,163.18);
shapes(k5,[
 {rect:[28.8,56,163.18,162.122],fill:'rgba(95,130,170,0.11)'},
 {rect:[30,56,162.444,162.122],fill:'rgba(70,100,140,0.1)'},
 {rect:[47.8,65,162.70,162.187],fill:'rgba(165,215,165,0.18)'}
],1);
line(k5,[[-0.5,162.875],[69.5,162.875]],'#f7c98a',3,'solid',3);
line(k5,[[-0.3,162.875],[48,162.875]],'#6a6a50',1.3,[8,8],3);
line(k5,[[19.9,162.746],[48.2,162.746]],'#4caf50',2.4,GDOT,3);
line(k5,[[-0.3,162.699],[48.2,162.699]],'#8a5a30',2.4,GDOT,3);
line(k5,[[-0.3,162.608],[48.2,162.608]],'#8a5a30',2.4,GDOT,3);
line(k5,[[0,162.757],[62.9,162.456]],PURPLE,2.4,DOT,3,{lineStyle:{color:'#8a7fd0',width:2.4,type:DOT,cap:'round'}});
line(k5,[[50,162.122],[62.5,162.484]],PURPLE,2.4,DOT,3,{lineStyle:{color:'#8a7fd0',width:2.4,type:DOT,cap:'round'}});
line(k5,[[31,162.327],[63.6,163.165]],'#9a9a9a',1.6);
line(k5,[[44.8,162.079],[69.5,162.714]],'#9a9a9a',1.6);
line(k5,[[-0.3,162.45],[40,162.73],[69.5,162.95]],'#d9e8e4',1.5);
line(k5,[[-0.5,162.122],[65,162.122]],'#4a6fe0',1.8,'solid',4);
shapes(k5,[{rect:[27.5,53.9,162.176,162.0],stroke:'#7b97ee',lw:2.2},{circle:[45,162.178],r:14,stroke:'#8c8c8c',lw:1.5}],3.5);
candles(k5,fourHourCandles,5.6);
line(k5,fourFastMaA,MAROON,2.6,'solid',7,{smooth:0.3});
line(k5,fourFastMaB,MAROON,2.6,'solid',7,{smooth:0.3});
line(k5,fourSlowMa,MAUVE,1.3,'solid',4.5,{smooth:0.3});
marks(k5,[[6,162.843],[25,162.600],[35,162.535],[42,162.671]],'triangle',[13,13],'#d77cf0',8,180);
texts(k5,[[51,162.78,'H','#4caf50',14],[51,162.745,'H','#a0703a',14],[51,162.66,'C','#8a5a30',14],[51,162.607,'H','#444',14],[51,162.43,'C','#444',14],[51,162.198,'O','#666',14],[66.5,162.126,'1h','#6f8ce8',17],[5.8,162.99,'(y)','#a08bd8',15]]);

// ---------- chrome: panel backgrounds, separators, badges, titles ----------
const PANEL='#f6f8fd';
const gfx=[];
const bg=(x,y,w,h)=>gfx.push({type:'rect',shape:{x,y,width:w,height:h},style:{fill:PANEL},z:-5,silent:true});
bg(14,0,1846,840);bg(1866,0,680,212);bg(1866,218,680,445);bg(1866,670,680,170);
const rule=(x1,y1,x2,y2)=>gfx.push({type:'line',shape:{x1,y1,x2,y2},style:{stroke:'#1c1f28',lineWidth:2},z:90,silent:true});
rule(1866,104,2546,104);rule(1866,173,2546,173);rule(2457,0,2457,212);
rule(1866,548,2546,548);rule(1866,625,2546,625);rule(2449,218,2449,663);rule(2449,670,2449,840);
const txt=(x,y,text,fill,size,align,w)=>gfx.push({type:'text',x,y,silent:true,z:101,style:{text,fill,font:(w||'')+' '+size+'px '+FONT,align:align||'left',verticalAlign:'middle'}});
function badge(x,y,w,h,lines,fill,size){
  gfx.push({type:'rect',shape:{x,y,width:w,height:h,r:2},style:{fill},z:100,silent:true});
  const step=h/lines.length;
  lines.forEach((t,i)=>txt(x+w/2,y+step*(i+.5),t,i===0?'#fff':'rgba(255,255,255,0.8)',size||17.5,'center'));
}
const BRED='#b5212f',BBLUE='#0e2f9e',BORANGE='#f57c00',BGREEN='#2f8a3c';
badge(1762,95,79,42,['162.434','50:04'],BRED);
badge(1762,224,79,24,['162.200'],BBLUE);badge(1762,255,79,24,['162.145'],BBLUE);
badge(1762,347,79,23,['161.977'],BRED);badge(1762,436,79,24,['161.818'],BBLUE);
badge(1762,460,79,23,['161.787'],BRED);badge(1762,483,79,24,['161.787'],BORANGE);
badge(1577,806,171,32,['23本で下向き転換'],'#fbb73c',19);
gfx.push({type:'circle',shape:{cx:1424,cy:834,r:11},style:{fill:'#fff',stroke:'#9c27b0',lineWidth:2},z:90,silent:true});
txt(1424,834,'⚡','#9c27b0',13,'center');
gfx.push({type:'circle',shape:{cx:1434,cy:825,r:3.5},style:{fill:RED},z:102,silent:true});
// 15m inset badges
badge(2457,14,78,23,['162.200'],BBLUE,17);badge(2457,46,78,23,['162.145'],BBLUE,17);
gfx.push({type:'rect',shape:{x:2321,y:66,width:121,height:23},style:{fill:'rgba(245,182,61,0.8)'},z:60,silent:true});
gfx.push({type:'text',x:2381,y:77.5,silent:true,z:61,style:{text:'95本で下向き転換',fill:'rgba(255,255,255,0.85)',font:'14.5px '+FONT,align:'center',verticalAlign:'middle'}});
// 1h inset
gfx.push({type:'rect',shape:{x:2455,y:225,width:84,height:35,r:5},style:{fill:'#fff'},z:95,silent:true});
txt(2467,243,'JPY','#2a2e39',17);
badge(2449,313,79,44,['162.434','50:04'],BRED,17);
badge(2449,396,79,47,['162.200','162.145'],BBLUE,17);
gfx.push({type:'rect',shape:{x:2449,y:473,width:79,height:24,r:2},style:{fill:BRED},z:100,silent:true});txt(2488.5,485,'161.977','#fff',17,'center');
badge(2449,525,79,23,['161.818'],BBLUE,17);
txt(1877,240,'USDJPY・1時間・OANDA','#20242e',16.5);
const maBlock=(y0,short,long)=>{
  txt(2345,y0,'Short MA:','#a8455a',14.5,'right');txt(2345,y0+24,'Long MA:','#2f5597',14.5,'right');txt(2345,y0+48,'Bias:','#8a8f9a',14.5,'right');
  txt(2362,y0,'▲ '+short,'#e5233b',15);txt(2362,y0+24,'▲ '+long,'#e5233b',15);txt(2361,y0+48,'BUY (Long)','#e0364a',14.5);
};
maBlock(245,'0.00968','0.0025');
badge(2312,511,122,23,['23本で下向き転換'],'#f5b63d',15);
// 4h inset
gfx.push({type:'rect',shape:{x:2455,y:677,width:84,height:33,r:5},style:{fill:'#fff'},z:95,silent:true});
txt(2467,694,'JPY','#2a2e39',17);
gfx.push({type:'rect',shape:{x:2449,y:717,width:79,height:36},style:{fill:BGREEN},z:99,silent:true});
txt(2488.5,719,'162.687','rgba(255,255,255,0.75)',17,'center');txt(2488.5,742,'162.687','#fff',17,'center');
badge(2449,773,85,42,['162.434','03:50:03'],BRED,17);
badge(2449,816,79,24,['162.200'],BBLUE,17);
txt(1878,691,'USDJPY・4時間・OANDA','#20242e',16.5);
maBlock(696,'0.01749','0.01337');

const chart=echarts.init(document.getElementById('c'),null,{renderer:'canvas',width:2560,height:840});
chart.setOption({animation:false,backgroundColor:'#fff',grid:grids.map(g=>Object.assign({containLabel:false,outerBoundsMode:'none'},g)),xAxis,yAxis,series,graphic:{elements:gfx},tooltip:{show:false}});
</script></body></html>
